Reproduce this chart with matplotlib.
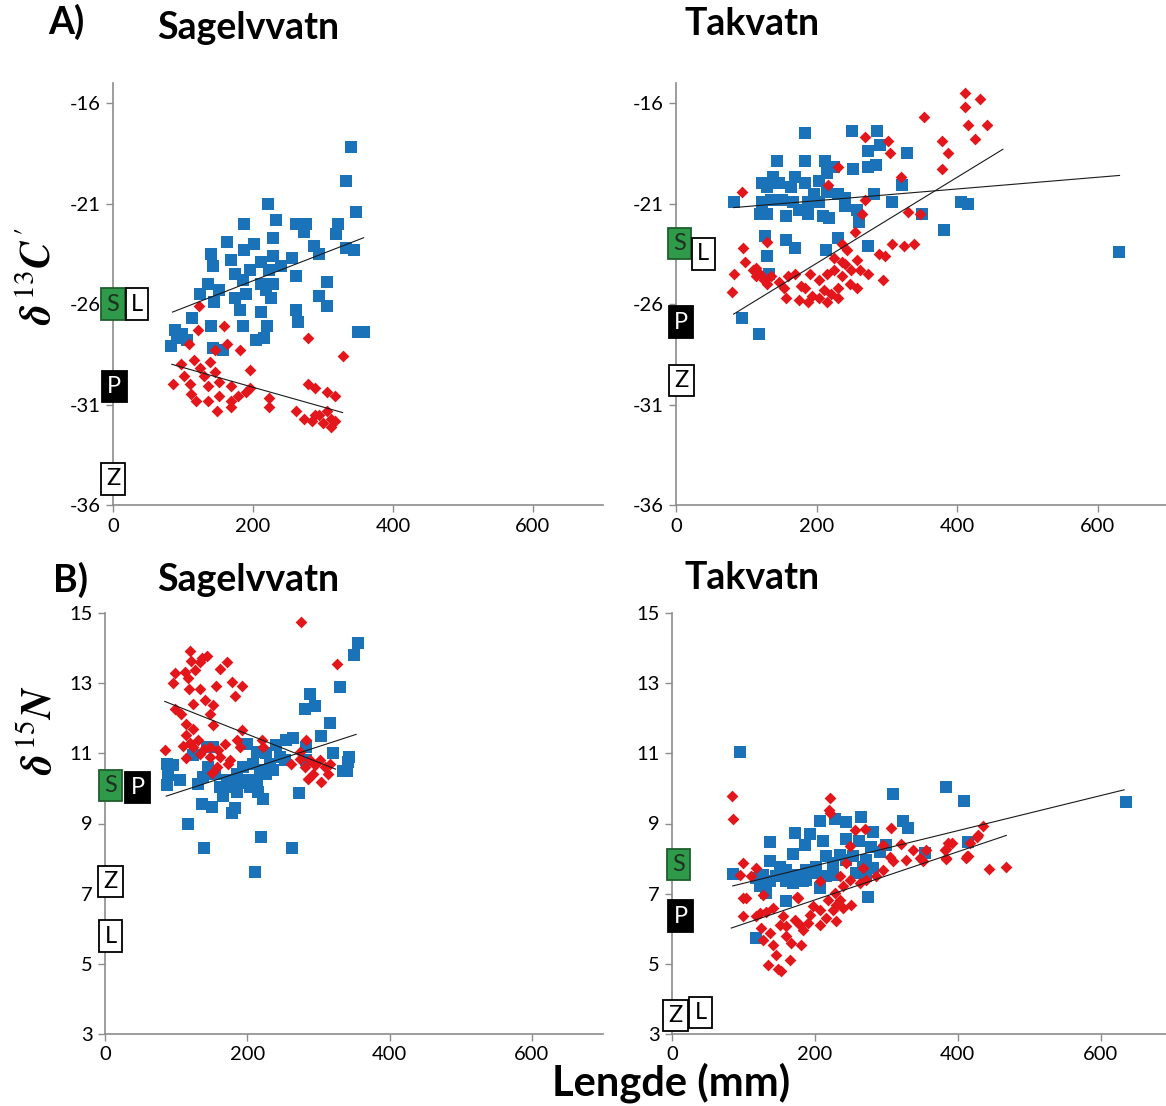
import matplotlib
matplotlib.use('Agg')
import matplotlib.pyplot as plt

plt.rcParams['font.family'] = ['Lato', 'DejaVu Sans']
plt.rcParams['axes.unicode_minus'] = False
plt.rcParams['mathtext.fontset'] = 'custom'
plt.rcParams['mathtext.it'] = 'STIXGeneral:italic:bold'
plt.rcParams['mathtext.rm'] = 'STIXGeneral'
plt.rcParams['mathtext.bf'] = 'STIXGeneral:bold'

BLUE = '#1a72b8'
RED = '#e3161b'
GREEN = '#2e9a4a'

# --- Sagelvvatn, d13C ---
sag_c_blue_x = [340, 333, 347, 221, 187, 233, 262, 276, 322, 163, 318, 273, 187, 201, 229, 287, 333, 344, 140, 168,
                212, 229, 240, 256, 294, 143, 174, 196, 223, 262, 124, 135, 152, 185, 212, 229, 305, 144, 174, 190,
                218, 226, 182, 212, 262, 294, 306, 113, 140, 185, 220, 264, 88, 91, 83, 99, 105, 204, 215, 143,
                157, 350, 358]
sag_c_blue_y = [-18.2, -19.9, -21.4, -21.0, -22.0, -21.8, -22.0, -22.0, -22.0, -22.9, -22.5, -22.4, -23.3, -23.0,
                -22.7, -23.1, -23.2, -23.3, -23.5, -23.8, -23.9, -23.6, -24.1, -23.7, -23.5, -24.1, -24.5, -24.3,
                -24.3, -24.6, -25.5, -25.0, -25.3, -24.8, -25.0, -25.0, -24.9, -25.9, -25.7, -25.5, -25.3, -25.7,
                -26.3, -26.4, -26.3, -25.6, -26.1, -26.7, -27.1, -27.1, -27.1, -26.9, -27.3, -27.7, -28.1, -27.5,
                -27.8, -27.8, -27.7, -28.2, -28.3, -27.4, -27.4]
sag_c_red_x = [123, 121, 158, 109, 163, 278, 329, 146, 182, 97, 116, 124, 138, 102, 130, 146, 195, 85, 110, 136,
               152, 168, 190, 195, 278, 289, 118, 135, 152, 168, 179, 223, 306, 317, 149, 168, 223, 262, 273, 284,
               294, 306, 311, 300, 317, 311, 289, 111]
sag_c_red_y = [-26.1, -27.3, -27.1, -28.0, -28.0, -27.7, -28.6, -28.3, -28.3, -29.0, -28.8, -29.2, -28.9, -29.6,
               -29.6, -29.4, -29.3, -30.0, -30.0, -30.1, -29.9, -30.1, -30.4, -30.2, -30.0, -30.2, -30.8, -30.8,
               -30.6, -30.8, -30.6, -30.7, -30.4, -30.6, -31.3, -31.1, -31.1, -31.3, -31.7, -31.8, -31.5, -31.3,
               -31.7, -31.9, -31.8, -32.1, -31.5, -30.5]

# --- Takvatn, d13C ---
tak_c_blue_x = [82, 94, 118, 183, 250, 286, 143, 183, 212, 252, 273, 284, 273, 290, 328, 215, 225, 204, 170, 138,
                122, 130, 146, 164, 183, 196, 215, 231, 241, 321, 281, 122, 135, 151, 167, 188, 204, 241, 308, 119,
                130, 156, 175, 188, 209, 217, 257, 260, 350, 406, 416, 382, 126, 156, 170, 214, 231, 273, 130, 132,
                630]
tak_c_blue_y = [-20.9, -26.7, -27.5, -17.5, -17.4, -17.4, -18.9, -18.9, -18.9, -19.3, -19.2, -19.1, -18.4, -18.1,
                -18.5, -19.5, -19.2, -19.9, -19.7, -19.7, -20.0, -20.2, -20.0, -20.2, -20.0, -20.5, -20.4, -20.5,
                -20.7, -20.1, -20.5, -20.9, -20.8, -20.8, -20.9, -20.9, -20.9, -21.1, -20.9, -21.5, -21.5, -21.6,
                -21.3, -21.5, -21.6, -21.7, -21.3, -21.9, -21.5, -20.9, -21.0, -22.3, -22.6, -22.8, -23.2, -23.3,
                -22.7, -23.1, -23.6, -24.5, -23.4]
tak_c_red_x = [411, 433, 411, 353, 416, 442, 426, 379, 387, 269, 301, 304, 378, 320, 230, 94, 216, 269, 265, 330,
               347, 254, 236, 308, 324, 339, 289, 297, 96, 129, 244, 257, 273, 294, 82, 80, 98, 109, 114, 125,
               135, 146, 159, 170, 154, 130, 156, 175, 188, 183, 191, 204, 215, 225, 236, 247, 257, 210, 220, 231,
               215, 204, 236, 225, 194, 178, 114, 119, 249, 231, 241, 262]
tak_c_red_y = [-15.5, -15.8, -16.2, -16.7, -17.1, -17.1, -17.8, -17.9, -18.5, -17.7, -17.9, -18.5, -19.3, -19.7,
               -19.2, -20.4, -20.1, -20.8, -21.5, -21.4, -21.5, -22.4, -23.0, -23.0, -23.1, -23.0, -23.5, -23.6,
               -23.2, -22.9, -23.3, -23.8, -24.5, -24.8, -24.5, -25.4, -23.9, -24.3, -24.6, -24.8, -24.6, -24.9,
               -24.6, -24.5, -25.2, -25.0, -25.7, -25.8, -25.9, -25.2, -24.5, -24.8, -24.5, -24.3, -24.6, -25.0,
               -25.2, -25.3, -25.5, -25.2, -25.9, -25.7, -23.9, -23.7, -25.6, -25.1, -24.2, -24.5, -24.3, -25.7,
               -24.0, -24.3]

# --- Sagelvvatn, d15N ---
sag_n_blue_x = [356, 350, 330, 288, 281, 295, 316, 303, 264, 255, 321, 343, 342, 334, 340, 273, 87, 96, 89, 87,
                105, 123, 143, 152, 145, 138, 131, 154, 162, 166, 171, 185, 199, 213, 208, 218, 227, 232, 194, 199,
                204, 213, 215, 222, 185, 241, 246, 253, 173, 187, 137, 151, 179, 183, 116, 139, 219, 263, 211, 236,
                227, 283, 283]
sag_n_blue_y = [14.15, 13.79, 12.89, 12.68, 12.27, 12.34, 11.87, 11.49, 11.45, 11.37, 11.01, 10.90, 10.75, 10.50,
                10.50, 9.87, 10.71, 10.66, 10.38, 10.09, 10.25, 10.94, 11.18, 11.18, 10.61, 10.33, 10.14, 10.42,
                10.04, 9.78, 10.23, 10.42, 11.28, 11.04, 10.71, 10.52, 10.42, 10.71, 10.61, 10.23, 10.04, 10.23,
                9.90, 9.71, 9.90, 11.23, 10.90, 10.80, 10.04, 10.16, 9.57, 9.47, 9.30, 9.43, 8.98, 8.29, 8.62,
                8.29, 7.62, 10.52, 11.0, 11.18, 10.80]
sag_n_red_x = [276, 119, 137, 144, 171, 121, 133, 98, 112, 116, 95, 126, 162, 178, 193, 183, 118, 133, 156, 141,
               152, 124, 98, 107, 147, 152, 114, 123, 114, 131, 119, 110, 84, 139, 147, 169, 185, 193, 190, 114,
               133, 162, 176, 173, 150, 158, 220, 222, 283, 326, 262, 274, 281, 288, 295, 302, 309, 293, 304, 286,
               316, 314, 274, 124, 148, 159]
sag_n_red_y = [14.74, 13.92, 13.73, 13.77, 13.60, 13.63, 13.60, 13.29, 13.32, 13.16, 13.01, 13.37, 13.41, 13.03,
               12.91, 12.63, 12.84, 12.84, 12.91, 12.51, 12.37, 12.40, 12.27, 12.13, 12.13, 11.80, 11.83, 11.70,
               11.51, 11.37, 11.30, 11.20, 11.09, 11.13, 11.18, 11.26, 11.37, 11.66, 11.18, 10.88, 10.99, 10.90,
               10.80, 10.71, 10.44, 10.61, 11.37, 11.18, 11.39, 13.56, 10.71, 10.85, 10.61, 10.80, 10.66, 10.80,
               10.61, 10.42, 10.19, 10.28, 10.71, 10.42, 11.04, 11.18, 10.90, 11.09]

# --- Takvatn, d15N ---
tak_n_blue_x = [309, 384, 409, 207, 228, 243, 264, 281, 323, 331, 172, 193, 137, 186, 212, 244, 262, 279, 291, 300,
                170, 137, 151, 160, 174, 188, 202, 216, 226, 235, 244, 254, 268, 272, 282, 85, 118, 128, 137, 146,
                160, 123, 132, 170, 184, 207, 216, 202, 258, 272, 160, 275, 118, 414, 354, 226, 188, 156, 95, 635]
tak_n_blue_y = [9.84, 10.05, 9.65, 9.08, 9.12, 9.05, 9.18, 8.77, 9.08, 8.86, 8.74, 8.70, 8.46, 8.39, 8.51, 8.55,
                8.51, 8.34, 8.20, 8.39, 8.13, 7.92, 7.77, 7.68, 7.54, 7.68, 7.76, 8.06, 7.87, 8.11, 7.96, 8.06,
                7.77, 7.96, 7.73, 7.57, 7.44, 7.54, 7.35, 7.49, 7.35, 7.21, 7.02, 7.30, 7.35, 7.16, 7.49, 7.59,
                7.59, 7.49, 6.78, 6.90, 5.74, 8.46, 8.17, 7.54, 7.40, 7.59, 11.05, 9.61]
tak_n_red_x = [84, 86, 221, 220, 221, 256, 270, 306, 321, 296, 337, 355, 386, 417, 428, 382, 413, 305, 310, 328,
               347, 351, 384, 249, 244, 268, 296, 286, 272, 263, 249, 235, 240, 228, 235, 230, 226, 240, 251, 219,
               207, 198, 193, 216, 230, 207, 177, 172, 179, 191, 184, 160, 151, 156, 142, 132, 123, 118, 125, 137,
               128, 142, 160, 167, 181, 165, 146, 135, 149, 153, 100, 104, 99, 95, 100, 118, 110, 128, 207, 175,
               444, 467, 435, 427, 415, 412, 384, 383, 392]
tak_n_red_y = [9.77, 9.13, 9.72, 9.39, 9.29, 8.82, 8.84, 8.87, 8.42, 8.39, 8.25, 8.25, 8.44, 8.44, 8.68, 8.25,
               8.08, 8.04, 7.92, 7.96, 8.01, 7.92, 8.01, 8.36, 7.87, 7.73, 7.68, 7.49, 7.40, 7.30, 7.40, 7.49,
               7.21, 7.02, 6.83, 6.68, 6.54, 6.59, 6.68, 6.83, 6.54, 6.64, 6.40, 6.31, 6.21, 6.12, 6.87, 6.26,
               6.12, 6.16, 5.97, 6.07, 6.12, 6.35, 6.59, 6.49, 6.45, 6.35, 6.02, 5.88, 5.69, 5.55, 5.78, 5.59,
               5.55, 5.12, 5.26, 4.98, 4.84, 4.79, 6.87, 6.87, 6.35, 7.54, 7.87, 7.73, 7.49, 6.97, 7.35, 6.90,
               7.69, 7.75, 8.93, 8.61, 8.08, 8.01, 7.98, 8.28, 8.44]

# trend lines (start/end)
sag_c_blue_trend = ([85, 358], [-26.4, -22.7])
sag_c_red_trend = ([84, 328], [-29.0, -31.4])
tak_c_blue_trend = ([82, 631], [-21.2, -19.6])
tak_c_red_trend = ([82, 465], [-26.5, -18.3])
sag_n_blue_trend = ([86, 353], [9.78, 11.54])
sag_n_red_trend = ([84, 324], [12.48, 10.55])
tak_n_blue_trend = ([85, 633], [7.22, 9.96])
tak_n_red_trend = ([83, 468], [6.02, 8.66])

# food source boxes: letter, x, y
sag_c_sources = [('S', 0, -26.0), ('L', 34, -26.0), ('P', 2, -30.1), ('Z', 0, -34.7)]
tak_c_sources = [('S', 5, -23.0), ('L', 39, -23.5), ('P', 7, -26.9), ('Z', 8, -29.8)]
sag_n_sources = [('S', 8, 10.08), ('P', 46, 10.03), ('Z', 8, 7.34), ('L', 8, 5.79)]
tak_n_sources = [('S', 9, 7.84), ('P', 12, 6.36), ('Z', 5, 3.52), ('L', 40, 3.62)]

x_ticks = [0, 200, 400, 600]
c_ticks = [-36, -31, -26, -21, -16]
n_ticks = [3, 5, 7, 9, 11, 13, 15]

W, H = 1166, 1106
fig = plt.figure(figsize=(W / 100, H / 100), dpi=100)


def add_axes(left, top, right, bottom):
    return fig.add_axes([left / W, 1 - bottom / H, (right - left) / W, (bottom - top) / H])


def style(ax, ylim, yticks):
    ax.set_xlim(0, 700)
    ax.set_ylim(*ylim)
    ax.set_xticks(x_ticks)
    ax.set_yticks(yticks)
    for s in ['top', 'right']:
        ax.spines[s].set_visible(False)
    for s in ['left', 'bottom']:
        ax.spines[s].set_color('#8c8c8c')
        ax.spines[s].set_linewidth(1.2)
    ax.tick_params(direction='out', length=5, width=1, color='#8c8c8c', labelsize=14.5, pad=4)
    ax.patch.set_alpha(0)


source_style = {
    'S': (GREEN, '#1e5e2c', '#203020'),
    'L': ('white', 'black', 'black'),
    'P': ('black', 'black', 'white'),
    'Z': ('white', 'black', 'black'),
}


def draw_panel(ax, bx, by, rx, ry, btrend, rtrend, sources):
    ax.scatter(bx, by, marker='s', s=64, color=BLUE, linewidths=0, zorder=2, clip_on=False)
    ax.scatter(rx, ry, marker='D', s=36, color=RED, linewidths=0, zorder=2, clip_on=False)
    ax.plot(*btrend, color='#1a1a1a', lw=0.8, zorder=3)
    ax.plot(*rtrend, color='#1a1a1a', lw=0.8, zorder=3)
    for letter, x, y in sources:
        fc, ec, tc = source_style[letter]
        ax.text(x, y, letter, ha='center', va='center', fontsize=17, color=tc, zorder=5,
                clip_on=False, bbox=dict(boxstyle='square,pad=0.22', fc=fc, ec=ec, lw=1.3))


ax_tl = add_axes(113, 83, 603, 505)
ax_tr = add_axes(676, 83, 1168, 505)
ax_bl = add_axes(105, 613, 603, 1034)
ax_br = add_axes(672, 613, 1172, 1034)

style(ax_tl, (-36, -15), c_ticks)
style(ax_tr, (-36, -15), c_ticks)
style(ax_bl, (3, 15), n_ticks)
style(ax_br, (3, 15), n_ticks)

draw_panel(ax_tl, sag_c_blue_x, sag_c_blue_y, sag_c_red_x, sag_c_red_y,
           sag_c_blue_trend, sag_c_red_trend, sag_c_sources)
draw_panel(ax_tr, tak_c_blue_x, tak_c_blue_y, tak_c_red_x, tak_c_red_y,
           tak_c_blue_trend, tak_c_red_trend, tak_c_sources)
draw_panel(ax_bl, sag_n_blue_x, sag_n_blue_y, sag_n_red_x, sag_n_red_y,
           sag_n_blue_trend, sag_n_red_trend, sag_n_sources)
draw_panel(ax_br, tak_n_blue_x, tak_n_blue_y, tak_n_red_x, tak_n_red_y,
           tak_n_blue_trend, tak_n_red_trend, tak_n_sources)


def ftext(x, y, s, **kw):
    fig.text(x / W, 1 - y / H, s, ha='center', va='center', **kw)


ftext(66, 22, 'A)', fontsize=27, fontweight='bold')
ftext(248, 28, 'Sagelvvatn', fontsize=27, fontweight='bold')
ftext(752, 24, 'Takvatn', fontsize=27, fontweight='bold')
ftext(70, 580, 'B)', fontsize=27, fontweight='bold')
ftext(248, 580, 'Sagelvvatn', fontsize=27, fontweight='bold')
ftext(752, 578, 'Takvatn', fontsize=27, fontweight='bold')
ftext(671, 1083, 'Lengde (mm)', fontsize=30, fontweight='bold')

ftext(38, 276, r'$\delta^{13}C^{\prime}$', fontsize=30, rotation=90)
ftext(38, 730, r'$\delta^{15}N$', fontsize=30, rotation=90)

fig.savefig('out.png', dpi=100)
